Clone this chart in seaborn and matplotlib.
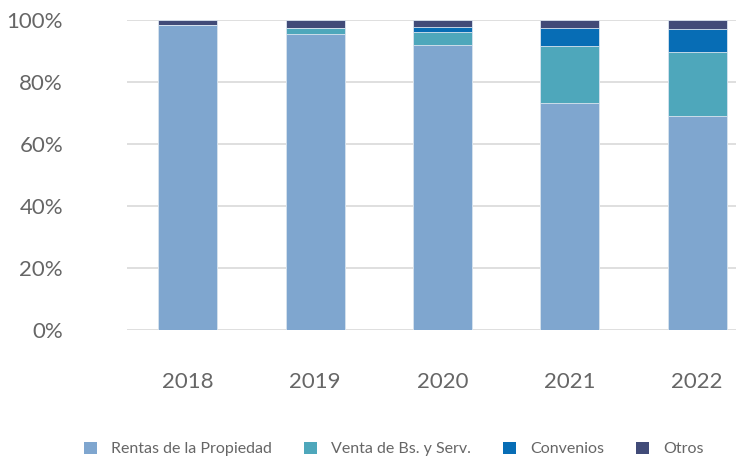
import matplotlib
matplotlib.use("Agg")
import matplotlib.pyplot as plt
from matplotlib.patches import Patch
import numpy as np
import pandas as pd
import seaborn as sns

years = ["2018", "2019", "2020", "2021", "2022"]
rentas = [98.4, 95.5, 91.9, 73.1, 69.0]
venta = [0.0, 1.8, 4.2, 18.6, 20.6]
convenios = [0.0, 0.0, 1.5, 5.7, 7.6]
otros = [1.6, 2.7, 2.4, 2.6, 2.8]

series = ["Rentas de la Propiedad", "Venta de Bs. y Serv.", "Convenios", "Otros"]
colors = ["#7fa6cf", "#4ea7bb", "#076db5", "#414b78"]

sns.set_theme(style="white")
plt.rcParams["font.family"] = ["Lato", "DejaVu Sans"]
text_color = "#666666"

df = pd.DataFrame({"year": years, series[0]: rentas, series[1]: venta,
                   series[2]: convenios, series[3]: otros})
cum = df[series].cumsum(axis=1)

fig = plt.figure(figsize=(7.36, 4.57), dpi=100)
ax = fig.add_axes([127 / 736, 1 - 330 / 457, 1 - 127 / 736, 310 / 457])

# draw from the top of the stack down so each layer covers the previous
for name, color in reversed(list(zip(series, colors))):
    sns.barplot(x=df["year"], y=cum[name], color=color, saturation=1,
                width=0.464, edgecolor="#dce6f0", linewidth=0.6, ax=ax, zorder=3)

ax.set_ylim(0, 100)
ax.set_xlim(-0.479, 4.306)
ax.set_yticks(np.arange(0, 101, 20))
ax.set_yticklabels([f"{v}%" for v in range(0, 101, 20)])
ax.yaxis.grid(True, color="#d9d9d9", linewidth=1.2, zorder=0)
ax.set_axisbelow(True)
for s in ax.spines.values():
    s.set_visible(False)
ax.set_xlabel("")
ax.set_ylabel("")
ax.tick_params(axis="y", length=0, pad=46, labelsize=16, labelcolor=text_color)
ax.tick_params(axis="x", length=0, pad=30, labelsize=16, labelcolor=text_color)

handles = [Patch(facecolor=c, edgecolor="none") for c in colors]
fig.legend(handles, series, loc="center", bbox_to_anchor=(0.535, 1 - 449 / 457),
           ncol=4, frameon=False, fontsize=11.5, labelcolor=text_color,
           handlelength=0.8, handleheight=0.8, handletextpad=0.9,
           columnspacing=2.0)

fig.savefig("out.png", dpi=100)
